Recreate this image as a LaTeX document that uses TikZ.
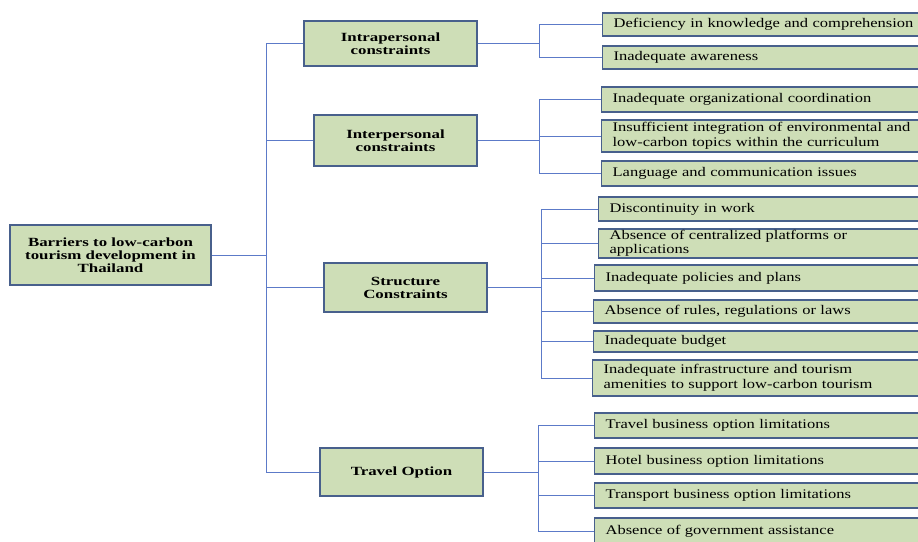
\documentclass[tikz,border=0pt]{standalone}
\usepackage{fontspec}
\setmainfont{Liberation Serif}
\newfontfamily\widefont[FakeStretch=1.25]{Liberation Serif}
\newfontfamily\widerfont[FakeStretch=1.35]{Liberation Serif}
\definecolor{boxgreen}{RGB}{206,222,183}
\definecolor{boxedge}{RGB}{72,96,140}
\definecolor{linkblue}{RGB}{92,122,200}

\begin{document}
\begin{tikzpicture}[x=1pt,y=-1pt]
        \tikzstyle{topic}=[draw=boxedge,fill=boxgreen,line width=1.2pt,font=\widerfont\bfseries\fontsize{12.5}{13}\selectfont,align=center,inner sep=0pt]
        \tikzstyle{leaf}=[draw=boxedge,fill=boxgreen,line width=1.2pt,font=\widefont\fontsize{13.2}{14.5}\selectfont,align=left,anchor=west,inner xsep=11pt,inner ysep=0pt]
        \tikzstyle{link}=[draw=linkblue,line width=1pt]
        \useasboundingbox (0,0) rectangle (918,541);

        % main topics
        \node[topic,minimum width=201pt,minimum height=60pt] (root) at (110.5,255) {Barriers to low-carbon\\tourism development in\\Thailand};
        \foreach \name/\x/\y/\w/\h/\txt in {intra/390.5/43.5/173/45/{Intrapersonal\\constraints},
                inter/395.5/140.5/163/51/{Interpersonal\\constraints},
                struct/405.5/287.5/163/49/{Structure\\Constraints},
                travel/401.5/472/163/48/{Travel Option}}
            \node[topic,minimum width=\w pt,minimum height=\h pt] (\name) at (\x,\y) {\txt};

        % sub-barriers
        \foreach \name/\x/\y/\h/\txt in {l11/602/24.5/23/{Deficiency in knowledge and comprehension},
                l12/602/57.5/23/{Inadequate awareness},
                l21/601/99.5/25/{Inadequate organizational coordination},
                l22/601/136/32/{Insufficient integration of environmental and\\low-carbon topics within the curriculum},
                l23/601/173.5/25/{Language and communication issues},
                l31/598/209/24/{Discontinuity in work},
                l32/598/243.5/29/{Absence of centralized platforms or\\applications},
                l33/594/278/26/{Inadequate policies and plans},
                l34/593/311.5/23/{Absence of rules, regulations or laws},
                l35/593/341.5/21/{Inadequate budget},
                l36/592/378/36/{Inadequate infrastructure and tourism\\amenities to support low-carbon tourism},
                l41/594/425.5/25/{Travel business option limitations},
                l42/594/461/26/{Hotel business option limitations},
                l43/594/495.5/25/{Transport business option limitations},
                l44/594/531/26/{Absence of government assistance}}
            \node[leaf,minimum height=\h pt,text width={940-\x-22}] (\name) at (\x,\y) {\txt};

        \coordinate (trunk) at (266,255);
        \coordinate (b1) at (539,43.5);
        \coordinate (b2) at (539,140.5);
        \coordinate (b3) at (541,287.5);
        \coordinate (b4) at (538,472);

        \draw[link] (root.east) -- (trunk);
        \foreach \t in {intra,inter,struct,travel}
            \draw[link] (trunk) |- (\t.west);

        \foreach \t/\b/\list in {intra/b1/{l11,l12}, inter/b2/{l21,l22,l23},
                struct/b3/{l31,l32,l33,l34,l35,l36}, travel/b4/{l41,l42,l43,l44}}
        {
            \draw[link] (\t.east) -- (\b);
            \foreach \l in \list
                \draw[link] (\b) |- (\l.west);
        }
\end{tikzpicture}
\end{document}
